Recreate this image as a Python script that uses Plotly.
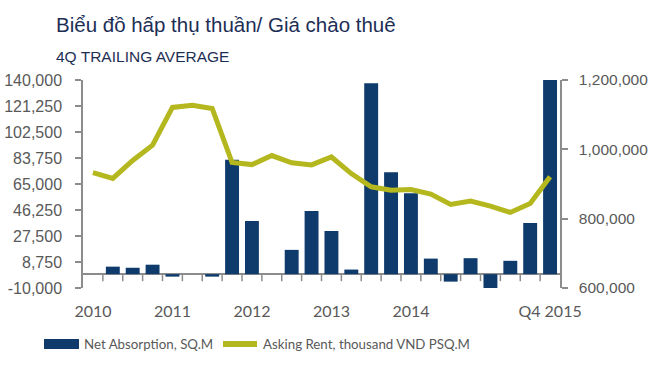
import plotly.graph_objects as go

# ---------------- data ----------------
quarters = [
    "Q1 2010", "Q2 2010", "Q3 2010", "Q4 2010",
    "Q1 2011", "Q2 2011", "Q3 2011", "Q4 2011",
    "Q1 2012", "Q2 2012", "Q3 2012", "Q4 2012",
    "Q1 2013", "Q2 2013", "Q3 2013", "Q4 2013",
    "Q1 2014", "Q2 2014", "Q3 2014", "Q4 2014",
    "Q1 2015", "Q2 2015", "Q3 2015", "Q4 2015",
]
net_absorption = [
    0, 5400, 4600, 6800,
    -1800, 0, -1800, 82500,
    38300, 0, 17500, 45600,
    31100, 3300, 137600, 73500,
    58300, 11200, -5400, 11500,
    -10000, 9600, 36900, 140000,
]
asking_rent = [
    933000, 916000, 968000, 1012000,
    1121000, 1127000, 1118000, 962000,
    956000, 982000, 961000, 955000,
    978000, 930000, 892000, 882000,
    884000, 871000, 841000, 851000,
    836000, 818000, 844000, 921000,
]
x_tickvals = ["Q1 2010", "Q1 2011", "Q1 2012", "Q1 2013", "Q1 2014", "Q4 2015"]
x_ticktext = ["2010", "2011", "2012", "2013", "2014", "Q4 2015"]
left_tickvals = [-10000, 8750, 27500, 46250, 65000, 83750, 102500, 121250, 140000]
left_ticktext = ["-10,000", "8,750", "27,500", "46,250", "65,000", "83,750",
                 "102,500", "121,250", "140,000"]
right_tickvals = [600000, 800000, 1000000, 1200000]
right_ticktext = ["600,000", "800,000", "1,000,000", "1,200,000"]

title_text = "Biểu đồ hấp thụ thuần/ Giá chào thuê"
subtitle_text = "4Q TRAILING AVERAGE"
bar_name = "Net Absorption, SQ.M"
line_name = "Asking Rent, thousand VND PSQ.M"

# ---------------- style ----------------
W, H = 660, 380
ML, MR, MT, MB = 83, 100, 80, 92
PW, PH = W - ML - MR, H - MT - MB
NAVY = "#0E3A6C"
OLIVE = "#B4B71D"
GRAY = "#8C8C8C"
LABEL = "#595959"
TITLE = "#1D2E55"


def px_x(px):
    return (px - ML) / PW


def px_y(py):
    return (H - MB - py) / PH


fig = go.Figure()
fig.add_trace(go.Bar(
    x=quarters, y=net_absorption, name=bar_name,
    marker=dict(color=NAVY, line=dict(width=0)),
    showlegend=False,
))
fig.add_trace(go.Scatter(
    x=quarters, y=asking_rent, name=line_name, yaxis="y2",
    mode="lines", line=dict(color=OLIVE, width=5),
    showlegend=False,
))

shapes = []
# boundary tick marks hanging from the zero line
for i in range(1, len(quarters)):
    shapes.append(dict(
        type="line", xref="x", yref="y", ysizemode="pixel", yanchor=0,
        x0=i - 0.5, x1=i - 0.5, y0=0, y1=-7,
        line=dict(color=GRAY, width=1.5),
    ))
# custom legend swatches
shapes.append(dict(type="rect", xref="paper", yref="paper",
                   x0=px_x(44), x1=px_x(79), y0=px_y(349), y1=px_y(339),
                   fillcolor=NAVY, line=dict(width=0)))
shapes.append(dict(type="rect", xref="paper", yref="paper",
                   x0=px_x(223), x1=px_x(257), y0=px_y(347), y1=px_y(341),
                   fillcolor=OLIVE, line=dict(width=0)))

annotations = [
    dict(text=title_text, xref="paper", yref="paper", x=px_x(54), y=px_y(24),
         xanchor="left", yanchor="middle", showarrow=False,
         font=dict(family="Liberation Sans, Arial", size=20.5, color=TITLE)),
    dict(text=subtitle_text, xref="paper", yref="paper", x=px_x(54), y=px_y(57),
         xanchor="left", yanchor="middle", showarrow=False,
         font=dict(family="Liberation Sans, Arial", size=15.5, color=TITLE)),
    dict(text=bar_name, xref="paper", yref="paper", x=px_x(82), y=px_y(344),
         xanchor="left", yanchor="middle", showarrow=False,
         font=dict(family="Lato", size=13.3, color=LABEL)),
    dict(text=line_name, xref="paper", yref="paper", x=px_x(261), y=px_y(344),
         xanchor="left", yanchor="middle", showarrow=False,
         font=dict(family="Lato", size=13.3, color=LABEL)),
]

fig.update_layout(
    width=W, height=H,
    margin=dict(l=ML, r=MR, t=MT, b=MB, pad=0, autoexpand=False),
    paper_bgcolor="white", plot_bgcolor="white",
    bargap=0.3,
    shapes=shapes, annotations=annotations,
    xaxis=dict(
        type="category", categoryorder="array", categoryarray=quarters,
        range=[-0.5, len(quarters) - 0.5], automargin=False,
        tickvals=x_tickvals, ticktext=x_ticktext,
        ticks="", showline=False, showgrid=False, zeroline=False,
        ticklabelstandoff=12,
        tickfont=dict(family="Lato", size=16, color=LABEL),
    ),
    yaxis=dict(
        range=[-10000, 140000], automargin=False,
        tickvals=left_tickvals, ticktext=left_ticktext,
        ticks="outside", ticklen=6, tickwidth=1.5, tickcolor=GRAY,
        showline=True, linecolor=GRAY, linewidth=1.5,
        showgrid=False, zeroline=True, zerolinecolor=GRAY, zerolinewidth=1.5,
        ticklabelstandoff=10,
        tickfont=dict(family="Liberation Sans, Arial", size=16, color=LABEL),
    ),
    yaxis2=dict(
        overlaying="y", side="right", automargin=False,
        range=[600000, 1200000],
        tickvals=right_tickvals, ticktext=right_ticktext,
        ticks="outside", ticklen=6, tickwidth=1.5, tickcolor=GRAY,
        showline=True, linecolor=GRAY, linewidth=1.5,
        showgrid=False, zeroline=False,
        ticklabelstandoff=8,
        tickfont=dict(family="Liberation Sans, Arial", size=15.5, color=LABEL),
    ),
)

fig.write_html("out.html", config={"displayModeBar": False},
               post_script="document.body.style.margin='0';")
